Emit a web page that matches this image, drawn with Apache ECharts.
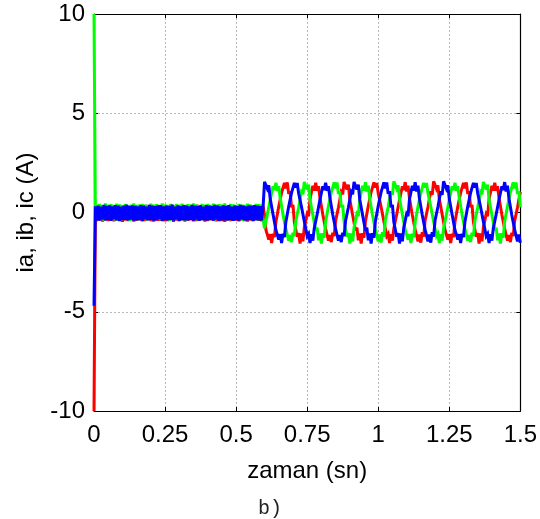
<!DOCTYPE html>
<html>
<head>
<meta charset="utf-8">
<script src="https://cdn.jsdelivr.net/npm/echarts@6/dist/echarts.min.js"></script>
<style>
  html, body { margin: 0; padding: 0; background: #fff; }
  #chart { width: 540px; height: 519px; }
</style>
</head>
<body>
<div id="chart"></div>
<script>
// Three-phase stator currents, sampled every 5 ms.
const sampleStep = 0.005;   // s
const loadStepTime = 0.6;   // s, start of the running section

const xTicks = [0, 0.25, 0.5, 0.75, 1, 1.25, 1.5];
const yTicks = [-10, -5, 0, 5, 10];

// Start-up section (t = 0 .. 0.595 s)
const iaStartup = [-10,
  0.30,-0.44,0.34,-0.39,0.37,-0.46,0.31,-0.41,0.35,-0.43,
  0.33,-0.38,0.36,-0.45,0.32,-0.40,0.38,-0.42,0.34,-0.47,
  0.31,-0.41,0.35,-0.44,0.37,-0.39,0.33,-0.46,0.30,-0.42,
  0.36,-0.40,0.32,-0.45,0.34,-0.43,0.38,-0.38,0.35,-0.44,
  0.31,-0.46,0.37,-0.41,0.33,-0.42,0.30,-0.39,0.36,-0.45,
  0.34,-0.43,0.32,-0.40,0.38,-0.47,0.35,-0.41,0.31,-0.44,
  0.37,-0.39,0.33,-0.46,0.36,-0.42,0.30,-0.40,0.34,-0.45,
  0.32,-0.43,0.38,-0.41,0.35,-0.38,0.31,-0.46,0.36,-0.44,
  0.33,-0.40,0.37,-0.42,0.30,-0.45,0.34,-0.39,0.38,-0.43,
  0.35,-0.47,0.31,-0.41,0.36,-0.44,0.33,-0.40,0.32,-0.42,
  0.37,-0.45,0.34,-0.39,0.30,-0.43,0.35,-0.46,0.38,-0.41,
  0.31,-0.44,0.36,-0.40,0.33,-0.42,0.34,-0.45,0.32];
const ibStartup = [10,
  -0.36,0.40,-0.33,0.44,-0.38,0.35,-0.41,0.46,-0.34,0.39,
  -0.37,0.42,-0.35,0.38,-0.40,0.45,-0.33,0.41,-0.39,0.36,
  -0.34,0.43,-0.38,0.37,-0.42,0.40,-0.35,0.46,-0.37,0.38,
  -0.40,0.41,-0.33,0.44,-0.36,0.39,-0.41,0.37,-0.34,0.45,
  -0.38,0.40,-0.36,0.42,-0.33,0.38,-0.39,0.46,-0.35,0.41,
  -0.37,0.39,-0.42,0.43,-0.34,0.37,-0.38,0.44,-0.36,0.40,
  -0.33,0.45,-0.39,0.38,-0.41,0.42,-0.35,0.39,-0.37,0.46,
  -0.34,0.41,-0.40,0.37,-0.36,0.44,-0.38,0.40,-0.33,0.43,
  -0.39,0.38,-0.35,0.45,-0.41,0.39,-0.37,0.42,-0.34,0.40,
  -0.36,0.46,-0.38,0.37,-0.40,0.43,-0.33,0.41,-0.39,0.38,
  -0.35,0.44,-0.37,0.40,-0.42,0.39,-0.34,0.45,-0.36,0.41,
  -0.38,0.37,-0.33,0.43,-0.40,0.42,-0.35,0.39,-0.37];
const icStartup = [-4.7,
  0.32,-0.38,0.35,-0.41,0.30,-0.36,0.38,-0.40,0.33,-0.37,
  0.36,-0.42,0.31,-0.35,0.37,-0.39,0.34,-0.43,0.30,-0.38,
  0.35,-0.37,0.39,-0.40,0.32,-0.36,0.36,-0.41,0.33,-0.39,
  0.31,-0.38,0.37,-0.42,0.35,-0.36,0.30,-0.40,0.38,-0.37,
  0.34,-0.41,0.32,-0.39,0.36,-0.35,0.37,-0.43,0.31,-0.38,
  0.35,-0.40,0.33,-0.37,0.39,-0.41,0.30,-0.36,0.36,-0.42,
  0.32,-0.38,0.37,-0.39,0.34,-0.40,0.31,-0.37,0.38,-0.41,
  0.35,-0.36,0.33,-0.42,0.36,-0.38,0.30,-0.40,0.37,-0.39,
  0.34,-0.37,0.32,-0.41,0.38,-0.36,0.35,-0.43,0.31,-0.38,
  0.36,-0.40,0.33,-0.39,0.37,-0.37,0.30,-0.42,0.35,-0.38,
  0.32,-0.41,0.38,-0.36,0.34,-0.40,0.31,-0.39,0.36,-0.37,
  0.33,-0.42,0.37,-0.38,0.35,-0.40,0.32,-0.39,0.30];

// Running section (t = 0.6 .. 1.5 s)
const iaRunning = [
  -0.15,-0.88,-0.79,-1.37,-1.09,-1.54,-1.07,-1.24,-0.48,-0.45,0.30,0.29,0.99,1.02,1.49,
  1.22,1.52,0.94,1.07,0.26,0.38,-0.48,-0.45,-1.22,-1.04,-1.57,-1.06,-1.45,-0.76,-0.86,-0.07,-0.18,0.67,0.61,1.35,1.11,
  1.50,1.09,1.32,0.74,0.74,-0.10,-0.10,-0.83,-0.84,-1.42,-1.14,-1.49,-1.02,-1.19,-0.43,-0.40,0.25,0.24,1.04,0.92,1.54,
  1.58,1.16,1.40,0.66,0.72,-0.13,-0.12,-0.90,-0.76,-1.40,-1.06,-1.57,-1.04,-1.27,-0.45,-0.48,0.33,0.26,1.02,0.99,1.52,
  1.25,1.49,0.97,1.04,0.29,0.35,-0.45,-0.48,-1.19,-1.07,-1.54,-1.09,-1.42,-0.79,-0.83,-0.10,-0.15,0.64,0.64,1.32,1.14,
  1.53,1.06,1.35,0.71,0.77,-0.13,-0.07,-0.86,-0.81,-1.45,-1.11,-1.52,-0.99,-1.22,-0.40,-0.43,0.28,0.21,1.07,0.89,1.57,
  1.55,1.19,1.37,0.69,0.69,-0.10,-0.15,-0.88,-0.79,-1.37,-1.09,-1.54,-1.07,-1.24,-0.48,-0.45,0.30,0.29,0.99,1.02,1.49,
  1.22,1.52,0.94,1.07,0.26,0.38,-0.48,-0.45,-1.22,-1.04,-1.57,-1.06,-1.45,-0.76,-0.86,-0.07,-0.18,0.67,0.61,1.35,1.11,
  1.50,1.09,1.32,0.74,0.74,-0.10,-0.10,-0.83,-0.84,-1.42,-1.14,-1.49,-1.02,-1.19,-0.43,-0.40,0.25,0.24,1.04];
const ibRunning = [
  -0.79,-0.83,-0.10,-0.15,0.64,0.64,1.32,1.14,
  1.50,1.09,1.32,0.74,0.74,-0.10,-0.10,-0.83,-0.84,-1.42,-1.14,-1.49,-1.02,-1.19,-0.43,-0.40,0.25,0.24,1.04,0.92,1.54,
  1.58,1.16,1.40,0.66,0.72,-0.13,-0.12,-0.90,-0.76,-1.40,-1.06,-1.57,-1.04,-1.27,-0.45,-0.48,0.33,0.26,1.02,0.99,1.52,
  1.22,1.52,0.94,1.07,0.26,0.38,-0.48,-0.45,-1.22,-1.04,-1.57,-1.06,-1.45,-0.76,-0.86,-0.07,-0.18,0.67,0.61,1.35,1.11,
  1.53,1.06,1.35,0.71,0.77,-0.13,-0.07,-0.86,-0.81,-1.45,-1.11,-1.52,-0.99,-1.22,-0.40,-0.43,0.28,0.21,1.07,0.89,1.57,
  1.55,1.19,1.37,0.69,0.69,-0.10,-0.15,-0.88,-0.79,-1.37,-1.09,-1.54,-1.07,-1.24,-0.48,-0.45,0.30,0.29,0.99,1.02,1.49,
  1.25,1.49,0.97,1.04,0.29,0.35,-0.45,-0.48,-1.19,-1.07,-1.54,-1.09,-1.42,-0.79,-0.83,-0.10,-0.15,0.64,0.64,1.32,1.14,
  1.50,1.09,1.32,0.74,0.74,-0.10,-0.10,-0.83,-0.84,-1.42,-1.14,-1.49,-1.02,-1.19,-0.43,-0.40,0.25,0.24,1.04,0.92,1.54,
  1.58,1.16,1.40,0.66,0.72,-0.13,-0.12,-0.90,-0.76,-1.40,-1.06,-1.57,-1.04,-1.27,-0.45,-0.48,0.33,0.26,1.02,0.99,1.52,
  1.22,1.52,0.94,1.07,0.26];
const icRunning = [
  1.54,
  1.55,1.19,1.37,0.69,0.69,-0.10,-0.15,-0.88,-0.79,-1.37,-1.09,-1.54,-1.07,-1.24,-0.48,-0.45,0.30,0.29,0.99,1.02,1.49,
  1.25,1.49,0.97,1.04,0.29,0.35,-0.45,-0.48,-1.19,-1.07,-1.54,-1.09,-1.42,-0.79,-0.83,-0.10,-0.15,0.64,0.64,1.32,1.14,
  1.50,1.09,1.32,0.74,0.74,-0.10,-0.10,-0.83,-0.84,-1.42,-1.14,-1.49,-1.02,-1.19,-0.43,-0.40,0.25,0.24,1.04,0.92,1.54,
  1.58,1.16,1.40,0.66,0.72,-0.13,-0.12,-0.90,-0.76,-1.40,-1.06,-1.57,-1.04,-1.27,-0.45,-0.48,0.33,0.26,1.02,0.99,1.52,
  1.22,1.52,0.94,1.07,0.26,0.38,-0.48,-0.45,-1.22,-1.04,-1.57,-1.06,-1.45,-0.76,-0.86,-0.07,-0.18,0.67,0.61,1.35,1.11,
  1.53,1.06,1.35,0.71,0.77,-0.13,-0.07,-0.86,-0.81,-1.45,-1.11,-1.52,-0.99,-1.22,-0.40,-0.43,0.28,0.21,1.07,0.89,1.57,
  1.55,1.19,1.37,0.69,0.69,-0.10,-0.15,-0.88,-0.79,-1.37,-1.09,-1.54,-1.07,-1.24,-0.48,-0.45,0.30,0.29,0.99,1.02,1.49,
  1.25,1.49,0.97,1.04,0.29,0.35,-0.45,-0.48,-1.19,-1.07,-1.54,-1.09,-1.42,-0.79,-0.83,-0.10,-0.15,0.64,0.64,1.32,1.14,
  1.53,1.06,1.35,0.71,0.77,-0.13,-0.07,-0.86,-0.81,-1.45,-1.11,-1.52];

// Pair each sample with its time stamp.
function toPoints(startup, running) {
  const pts = startup.map((v, i) => [i * sampleStep, v]);
  running.forEach((v, i) => pts.push([loadStepTime + i * sampleStep, v]));
  return pts;
}

const FONT = '"Liberation Sans", Arial, sans-serif';
const chart = echarts.init(document.getElementById('chart'), null, { renderer: 'canvas' });

const frameLine = { show: true, onZero: false, lineStyle: { color: '#000', width: 1.2 } };
const innerTick = { show: true, inside: true, length: 4, lineStyle: { color: '#000', width: 1 } };
const gridLine = { show: true, lineStyle: { color: '#b8b8b8', width: 1, type: [2, 2] } };

const xMin = xTicks[0], xMax = xTicks[xTicks.length - 1], xStep = xTicks[1] - xTicks[0];
const yMin = yTicks[0], yMax = yTicks[yTicks.length - 1], yStep = yTicks[1] - yTicks[0];

function lineSeries(name, color, points) {
  return {
    name, type: 'line', data: points, showSymbol: false, symbol: 'none',
    sampling: null, clip: true, animation: false,
    lineStyle: { color, width: 3, join: 'miter', miterLimit: 3 }
  };
}

chart.setOption({
  animation: false,
  backgroundColor: '#fff',
  title: {
    text: 'b)', left: 253, top: 494,
    textStyle: { fontFamily: '"Liberation Mono", "DejaVu Sans Mono", monospace', fontSize: 20, fontWeight: 'normal', color: '#222' }
  },
  grid: { left: 94, right: 18, top: 14, bottom: 108 },
  xAxis: [{
    type: 'value', position: 'bottom', min: xMin, max: xMax, interval: xStep,
    axisLine: frameLine, axisTick: innerTick, splitLine: gridLine,
    axisLabel: { color: '#000', fontFamily: FONT, fontSize: 24, margin: 12, hideOverlap: false },
    name: 'zaman (sn)', nameLocation: 'middle', nameGap: 48,
    nameTextStyle: { color: '#000', fontFamily: FONT, fontSize: 24 }
  }, {
    type: 'value', position: 'top', min: xMin, max: xMax, interval: xStep,
    axisLine: frameLine, axisTick: innerTick, axisLabel: { show: false }, splitLine: { show: false }
  }],
  yAxis: [{
    type: 'value', position: 'left', min: yMin, max: yMax, interval: yStep,
    axisLine: frameLine, axisTick: innerTick, splitLine: gridLine,
    axisLabel: { color: '#000', fontFamily: FONT, fontSize: 24, margin: 9, hideOverlap: false },
    name: 'ia, ib, ic (A)', nameLocation: 'middle', nameGap: 56,
    nameTextStyle: { color: '#000', fontFamily: FONT, fontSize: 24 }
  }, {
    type: 'value', position: 'right', min: yMin, max: yMax, interval: yStep,
    axisLine: frameLine, axisTick: innerTick, axisLabel: { show: false }, splitLine: { show: false }
  }],
  series: [
    lineSeries('ia', '#ff0000', toPoints(iaStartup, iaRunning)),
    lineSeries('ib', '#00ff00', toPoints(ibStartup, ibRunning)),
    lineSeries('ic', '#0000ff', toPoints(icStartup, icRunning))
  ]
});
</script>
</body>
</html>
